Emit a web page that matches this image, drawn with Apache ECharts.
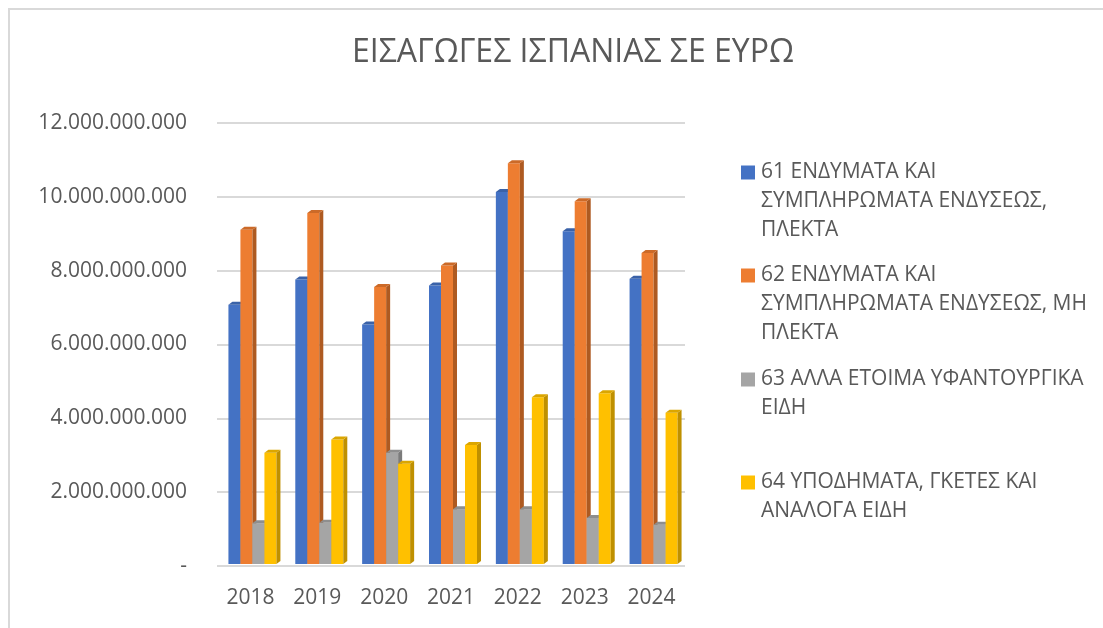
<!DOCTYPE html>
<html>
<head>
<meta charset="utf-8">
<title>ΕΙΣΑΓΩΓΕΣ ΙΣΠΑΝΙΑΣ ΣΕ ΕΥΡΩ</title>
<script src="https://cdn.jsdelivr.net/npm/echarts@6/dist/echarts.min.js"></script>
<style>
  html, body { margin: 0; padding: 0; background: #fff; }
  #chart { width: 1103px; height: 628px; }
</style>
</head>
<body>
<div id="chart"></div>
<script>
var years = ['2018', '2019', '2020', '2021', '2022', '2023', '2024'];

var seriesNames = [
    '61 ΕΝΔΥΜΑΤΑ ΚΑΙ ΣΥΜΠΛΗΡΩΜΑΤΑ ΕΝΔΥΣΕΩΣ, ΠΛΕΚΤΑ',
    '62 ΕΝΔΥΜΑΤΑ ΚΑΙ ΣΥΜΠΛΗΡΩΜΑΤΑ ΕΝΔΥΣΕΩΣ, ΜΗ ΠΛΕΚΤΑ',
    '63 ΑΛΛΑ ΕΤΟΙΜΑ ΥΦΑΝΤΟΥΡΓΙΚΑ ΕΙΔΗ',
    '64 ΥΠΟΔΗΜΑΤΑ, ΓΚΕΤΕΣ ΚΑΙ ΑΝΑΛΟΓΑ ΕΙΔΗ'
];

// legend text as wrapped in the picture
var legendLines = [
    ['61 ΕΝΔΥΜΑΤΑ ΚΑΙ', 'ΣΥΜΠΛΗΡΩΜΑΤΑ ΕΝΔΥΣΕΩΣ,', 'ΠΛΕΚΤΑ'],
    ['62 ΕΝΔΥΜΑΤΑ ΚΑΙ', 'ΣΥΜΠΛΗΡΩΜΑΤΑ ΕΝΔΥΣΕΩΣ, ΜΗ', 'ΠΛΕΚΤΑ'],
    ['63 ΑΛΛΑ ΕΤΟΙΜΑ ΥΦΑΝΤΟΥΡΓΙΚΑ', 'ΕΙΔΗ'],
    ['64 ΥΠΟΔΗΜΑΤΑ, ΓΚΕΤΕΣ ΚΑΙ', 'ΑΝΑΛΟΓΑ ΕΙΔΗ']
];

var knitted    = [7.08e9, 7.76e9, 6.54e9, 7.60e9, 10.13e9, 9.07e9, 7.78e9];
var notKnitted = [9.11e9, 9.56e9, 7.56e9, 8.14e9, 10.91e9, 9.88e9, 8.48e9];
var otherMade  = [1.16e9, 1.17e9, 3.07e9, 1.54e9, 1.54e9, 1.30e9, 1.12e9];
var footwear   = [3.07e9, 3.43e9, 2.77e9, 3.28e9, 4.57e9, 4.68e9, 4.15e9];

var yTicks = [0, 2e9, 4e9, 6e9, 8e9, 10e9, 12e9];

var seriesData = [knitted, notKnitted, otherMade, footwear];

var frontColors = ['#4472C4', '#ED7D31', '#A5A5A5', '#FFC000'];
var sideColors  = ['#2F5597', '#AE5A21', '#7B7B7B', '#BF9000'];
var topColors   = ['#3A62A8', '#CC6A28', '#8E8E8E', '#DBA600'];

var textColor = '#595959';
var fontFamily = '"Open Sans", "Noto Sans", sans-serif';

function formatTick(v) {
    if (v === 0) return '-';
    return String(Math.round(v)).replace(/\B(?=(\d{3})+(?!\d))/g, '.');
}

// bar with a little depth, like the office 3D column
function barRenderer(idx) {
    var barW = 12, dx = 4, dy = 3;
    return function(params, api) {
        var cat = api.value(0);
        var base = api.coord([cat, 0]);
        var tp = api.coord([cat, api.value(1)]);
        var x0 = base[0] - 22 + idx * barW;
        var x1 = x0 + barW;
        var yb = base[1] - 2;
        var yt = tp[1];
        return {
            type: 'group',
            children: [{
                type: 'rect',
                shape: { x: x0, y: yt, width: barW, height: yb - yt },
                style: { fill: frontColors[idx] }
            }, {
                type: 'polygon',
                shape: { points: [[x1, yt], [x1 + dx, yt - dy], [x1 + dx, yb - dy], [x1, yb]] },
                style: { fill: sideColors[idx] }
            }, {
                type: 'polygon',
                shape: { points: [[x0, yt], [x0 + dx, yt - dy], [x1 + dx, yt - dy], [x1, yt]] },
                style: { fill: topColors[idx] }
            }]
        };
    };
}

var legendTops = [157, 260, 364, 467];

var legends = seriesNames.map(function(name, i) {
    return {
        data: [name],
        orient: 'vertical',
        left: 731,
        top: legendTops[i],
        itemWidth: 0,
        itemHeight: 0,
        selectedMode: false,
        formatter: function() {
            var lines = legendLines[i];
            return lines.map(function(l, k) {
                return (k === 0 ? '{sq|}{gap|}' : '{ind|}') + '{t|' + l + '}';
            }).join('\n');
        },
        textStyle: {
            rich: {
                sq: { width: 14, height: 14, backgroundColor: frontColors[i] },
                gap: { width: 6 },
                ind: { width: 20 },
                t: { color: textColor, fontSize: 21, fontFamily: fontFamily, lineHeight: 29 }
            }
        }
    };
});

var series = seriesData.map(function(vals, i) {
    return {
        name: seriesNames[i],
        type: 'custom',
        color: frontColors[i],
        renderItem: barRenderer(i),
        encode: { x: 0, y: 1 },
        data: vals.map(function(v, k) { return [k, v]; })
    };
});

var chart = echarts.init(document.getElementById('chart'));
chart.setOption({
    backgroundColor: '#ffffff',
    animation: false,
    title: {
        text: 'ΕΙΣΑΓΩΓΕΣ ΙΣΠΑΝΙΑΣ ΣΕ ΕΥΡΩ',
        left: 568,
        textAlign: 'center',
        top: 32,
        textStyle: {
            color: textColor,
            fontSize: 32,
            fontWeight: 'normal',
            fontFamily: fontFamily
        }
    },
    graphic: [{
        type: 'rect',
        shape: { x: 9, y: 9, width: 1200, height: 700 },
        style: { fill: null, stroke: '#d9d9d9', lineWidth: 2 },
        silent: true
    }],
    legend: legends,
    grid: {
        left: 217,
        right: 418,
        top: 123,
        bottom: 62
    },
    xAxis: {
        type: 'category',
        data: years,
        axisLine: { show: false },
        axisTick: { show: false },
        axisLabel: {
            color: textColor,
            fontSize: 21,
            fontFamily: fontFamily,
            margin: 22
        }
    },
    yAxis: {
        type: 'value',
        min: yTicks[0],
        max: yTicks[yTicks.length - 1],
        interval: yTicks[1] - yTicks[0],
        axisLine: { show: false },
        axisTick: { show: false },
        axisLabel: {
            color: textColor,
            fontSize: 21,
            fontFamily: fontFamily,
            margin: 30,
            formatter: formatTick
        },
        splitLine: {
            lineStyle: { color: '#d9d9d9', width: 2 }
        }
    },
    series: series
});
</script>
</body>
</html>
